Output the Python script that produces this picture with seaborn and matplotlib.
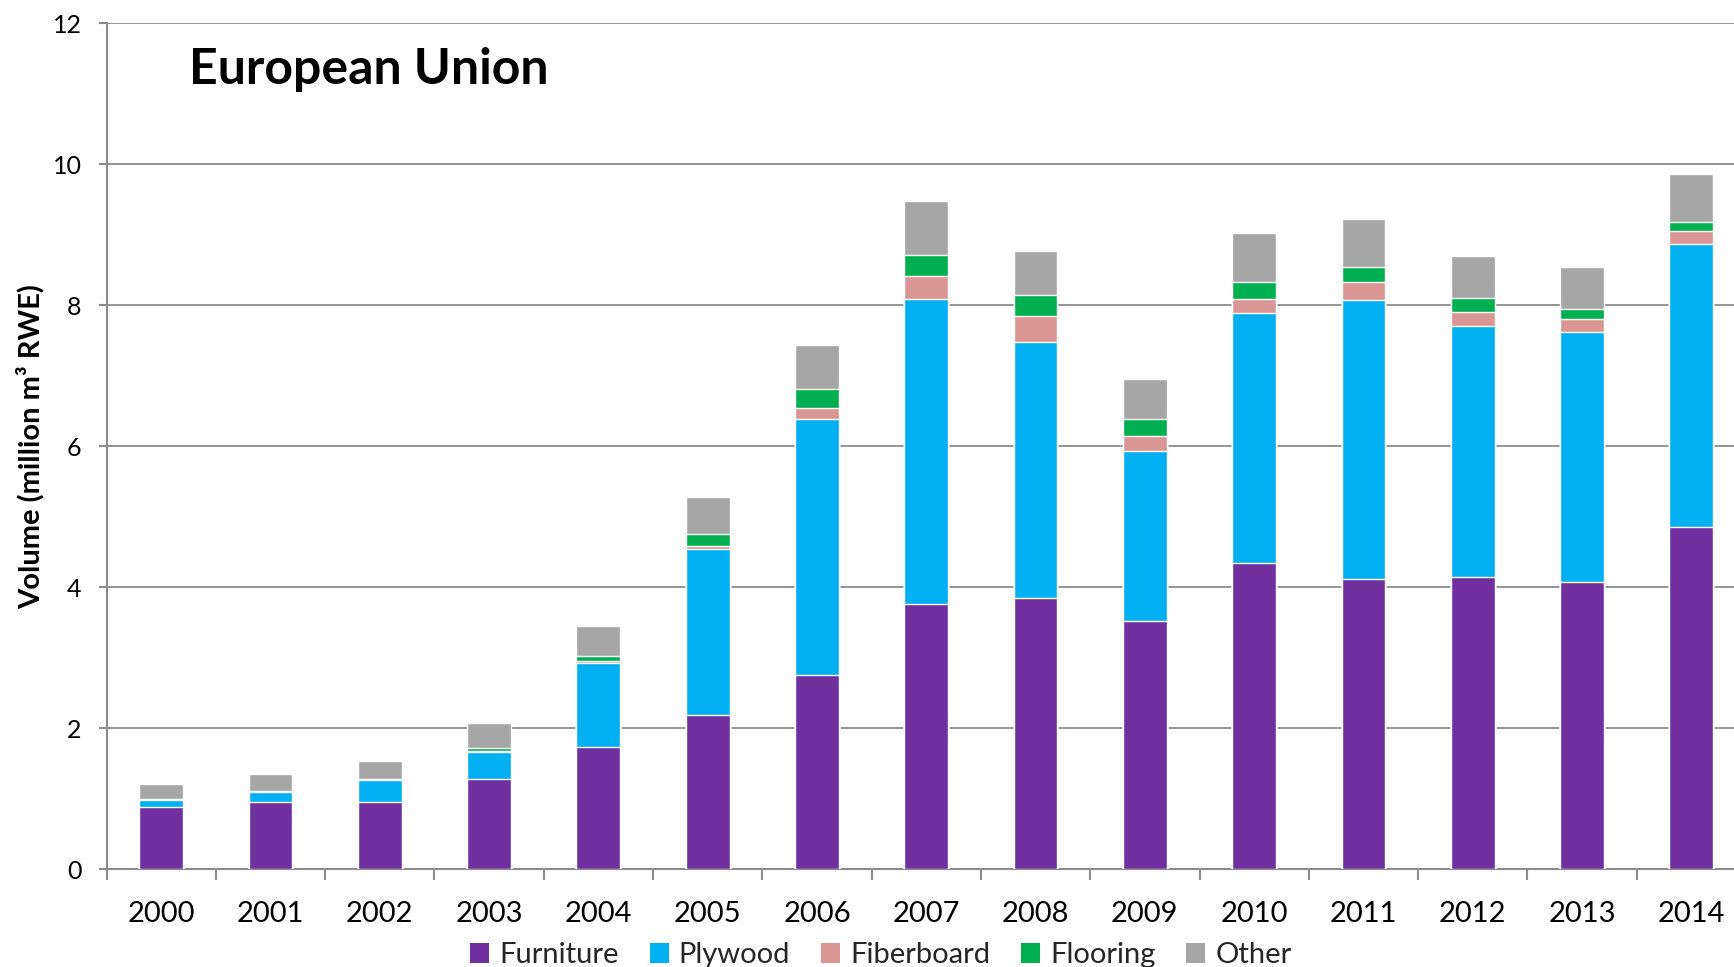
import numpy as np
import pandas as pd
import matplotlib
matplotlib.use("Agg")
import matplotlib.pyplot as plt
import seaborn as sns
from matplotlib.patches import Patch

years = ["2000", "2001", "2002", "2003", "2004", "2005", "2006", "2007",
         "2008", "2009", "2010", "2011", "2012", "2013", "2014"]
furniture  = [0.89, 0.96, 0.96, 1.28, 1.74, 2.19, 2.76, 3.76, 3.85, 3.52, 4.34, 4.12, 4.14, 4.07, 4.86]
plywood    = [0.09, 0.13, 0.30, 0.39, 1.19, 2.35, 3.63, 4.33, 3.63, 2.42, 3.55, 3.96, 3.56, 3.55, 4.01]
fiberboard = [0.00, 0.00, 0.00, 0.01, 0.02, 0.05, 0.16, 0.33, 0.37, 0.21, 0.20, 0.25, 0.20, 0.19, 0.18]
flooring   = [0.02, 0.02, 0.02, 0.04, 0.08, 0.17, 0.26, 0.30, 0.29, 0.24, 0.24, 0.22, 0.21, 0.14, 0.13]
other      = [0.21, 0.24, 0.26, 0.35, 0.42, 0.52, 0.63, 0.76, 0.63, 0.57, 0.69, 0.68, 0.59, 0.59, 0.68]

series_names = ["Furniture", "Plywood", "Fiberboard", "Flooring", "Other"]
series_vals = [furniture, plywood, fiberboard, flooring, other]
colors = ["#7030A0", "#00B0F0", "#D99694", "#00B050", "#A6A6A6"]

sns.set_theme(style="white")
plt.rcParams["font.family"] = ["Lato", "DejaVu Sans"]

fig = plt.figure(figsize=(17.34, 9.67), dpi=100)
ax = fig.add_axes([106.5 / 1734, 1 - 869.3 / 967, (1746 - 106.5) / 1734, 846 / 967])

df = pd.DataFrame({"year": years})
cum = np.zeros(len(years))
cums = []
for vals in series_vals:
    cum = cum + np.array(vals)
    cums.append(cum.copy())

# draw from the top layer down so each cumulative bar overlays the previous
for name, total, col in reversed(list(zip(series_names, cums, colors))):
    df["total"] = total
    sns.barplot(data=df, x="year", y="total", color=col, saturation=1,
                width=0.4, edgecolor="white", linewidth=1.0, ax=ax, zorder=3)

ax.set_ylim(0, 12)
ax.set_xlim(-0.5, len(years) - 0.5)
ax.set_yticks([0, 2, 4, 6, 8, 10, 12])
ax.yaxis.grid(True, color="#8C8C8C", linewidth=1.3, zorder=0)
ax.set_axisbelow(True)

for s in ["top", "right"]:
    ax.spines[s].set_visible(False)
for s in ["left", "bottom"]:
    ax.spines[s].set_color("#8C8C8C")
    ax.spines[s].set_linewidth(1.5)

ax.tick_params(axis="x", which="major", length=0, pad=23, labelsize=21, colors="black")
ax.set_xticks(np.arange(-0.5, len(years), 1.0), minor=True)
ax.tick_params(axis="x", which="minor", length=8, width=1.5, color="#8C8C8C", direction="out", bottom=True)
ax.tick_params(axis="y", length=6, width=1.5, color="#8C8C8C", direction="out", left=True,
               pad=12, labelsize=18, labelcolor="black")

ax.set_xlabel("")
ax.set_ylabel("Volume (million m³ RWE)", fontsize=21, fontweight="bold", color="black")
ax.yaxis.set_label_coords(-0.038, 0.5)

fig.text(189 / 1734, 1 - 84 / 967, "European Union", fontsize=36, fontweight="bold",
         ha="left", va="baseline", color="black")

handles = [Patch(facecolor=c, edgecolor="none", label=n) for n, c in zip(series_names, colors)]
fig.legend(handles=handles, loc="center", bbox_to_anchor=(0.508, 0.012), ncol=5, frameon=False,
           fontsize=21, handlelength=0.65, handleheight=0.65, handletextpad=0.35, columnspacing=1.05)

fig.savefig("out.png", dpi=100)
